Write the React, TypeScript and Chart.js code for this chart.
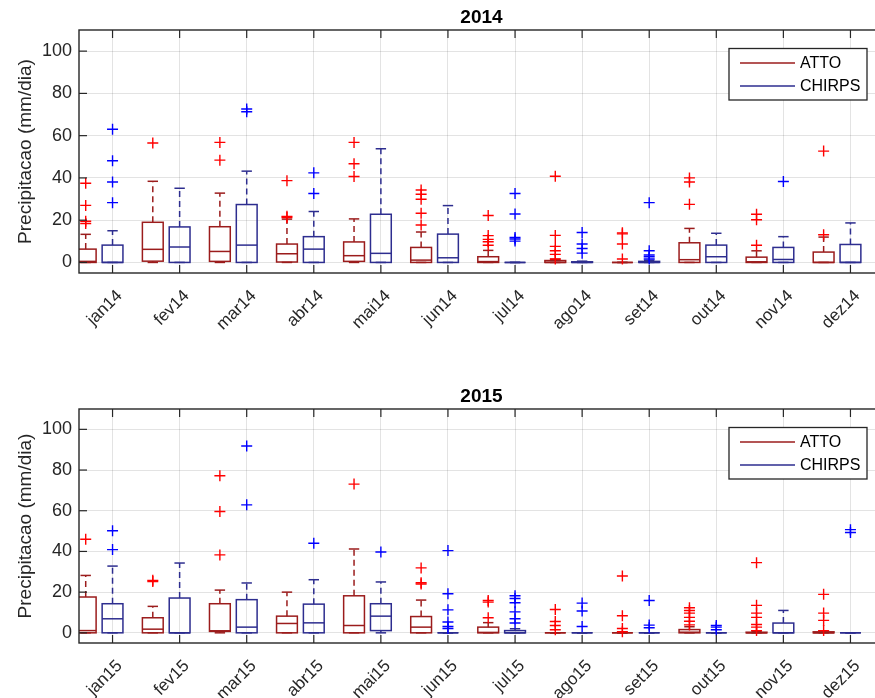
import React, { useEffect, useRef } from 'react';
import { Chart, registerables } from 'chart.js';
Chart.register(...registerables);

// ---------- data ----------
const MONTHS = ['jan', 'fev', 'mar', 'abr', 'mai', 'jun', 'jul', 'ago', 'set', 'out', 'nov', 'dez'];
const YEARS = ['2014', '2015'];
const SERIES = ['ATTO', 'CHIRPS'];
const Y_TICKS = [0, 20, 40, 60, 80, 100];
const Y_LABEL = 'Precipitacao (mm/dia)';

// 2014 ATTO
const ATTO_2014_Q1 = [0, 0.6, 0.5, 0.2, 0.5, 0, 0, 0, 0, 0, 0, 0];
const ATTO_2014_MED = [0.5, 6.2, 5.2, 4.1, 3.2, 1.1, 0.4, 0, 0, 1.3, 0.3, 0];
const ATTO_2014_Q3 = [6.3, 19, 16.9, 8.7, 9.7, 7.1, 2.7, 0.9, 0, 9.3, 2.5, 4.9];
const ATTO_2014_LO = [0, 0, 0, 0, 0, 0, 0, 0, 0, 0, 0, 0];
const ATTO_2014_HI = [13.3, 38.4, 32.8, 20.5, 20.6, 14.4, 5.7, 1.5, 0, 16.1, 5.5, 12];
const ATTO_2014_OUT = [
  [18.4, 19.5, 27, 37.5], [56.5], [48.4, 56.8], [21.3, 21.8, 38.7], [40.7, 46.7, 56.8],
  [17.7, 23.3, 29.9, 32.3, 34.3], [8.1, 9.8, 10.9, 12.7, 22.2], [1.6, 3.8, 5.5, 7.6, 12.8, 40.8],
  [1.6, 8.7, 13.5, 14], [27.5, 38.1, 40], [8.1, 20.2, 22.8], [13.1, 52.7],
];

// 2014 CHIRPS
const CHIRPS_2014_Q1 = [0, 0, 0, 0, 0, 0, 0, 0, 0, 0, 0, 0];
const CHIRPS_2014_MED = [0, 7.3, 8.2, 6.3, 4.3, 2.2, 0, 0, 0, 2.7, 1.4, 0];
const CHIRPS_2014_Q3 = [8.2, 16.8, 27.4, 12.2, 22.8, 13.4, 0, 0.3, 0.5, 8.2, 7.1, 8.5];
const CHIRPS_2014_LO = [0, 0, 0, 0, 0, 0, 0, 0, 0, 0, 0, 0];
const CHIRPS_2014_HI = [15, 35.1, 43.2, 24.1, 53.8, 26.9, 0, 0.6, 1, 13.8, 12.2, 18.7];
const CHIRPS_2014_OUT = [
  [28.3, 38.1, 48.1, 63], [], [71.3, 72.6], [32.6, 42.4], [], [],
  [10.1, 11.1, 11.8, 22.9, 32.6], [4.4, 6.6, 8.7, 14.2], [1.6, 2.7, 3.5, 5.5, 28.3], [], [38.3], [],
];

// 2015 ATTO
const ATTO_2015_Q1 = [0, 0, 0.7, 0, 0, 0, 0, 0, 0, 0, 0, 0];
const ATTO_2015_MED = [1.1, 1.8, 1.0, 4.6, 3.6, 2.8, 0.2, 0, 0, 0.3, 0, 0];
const ATTO_2015_Q3 = [17.6, 7.4, 14.3, 8.2, 18.2, 8.0, 2.8, 0, 0, 1.6, 0.3, 0.5];
const ATTO_2015_LO = [0, 0, 0, 0, 0, 0, 0, 0, 0, 0, 0, 0];
const ATTO_2015_HI = [28.2, 13, 21, 20, 41.2, 16.1, 5, 0, 0, 3, 0.6, 1];
const ATTO_2015_OUT = [
  [46], [25.2, 25.8], [38.3, 59.6, 77.2], [], [73.1], [24, 24.6, 31.9], [7.4, 15.1, 15.9],
  [1.5, 3.6, 5.6, 11.5], [0.5, 2.1, 8.4, 27.9], [3.9, 5.7, 7.6, 9.7, 11, 12.3],
  [1.1, 2.8, 4.1, 7.6, 9.7, 13.5, 34.5], [1.1, 6.1, 9.7, 18.9],
];

// 2015 CHIRPS
const CHIRPS_2015_Q1 = [0, 0, 0, 0, 1.1, 0, 0, 0, 0, 0, 0, 0];
const CHIRPS_2015_MED = [6.9, 0, 2.8, 4.9, 8.2, 0, 0, 0, 0, 0, 0, 0];
const CHIRPS_2015_Q3 = [14.3, 17.1, 16.3, 14.1, 14.3, 0, 1.1, 0, 0, 0, 4.8, 0];
const CHIRPS_2015_LO = [0, 0, 0, 0, 0, 0, 0, 0, 0, 0, 0, 0];
const CHIRPS_2015_HI = [32.8, 34.3, 24.5, 26.1, 25, 0, 2, 0, 0, 0, 11, 0];
const CHIRPS_2015_OUT = [
  [40.9, 50.2], [], [62.9, 91.8], [44], [39.7], [2.1, 3.1, 5.3, 11.3, 19.2, 40.4],
  [4.8, 6.9, 10.3, 14.8, 16.9, 18.2], [3.1, 10.7, 14.6], [2.5, 3.8, 15.9], [1.5, 2.8, 3.6], [], [49.3, 50.7],
];

// ---------- styles ----------
const FONT = '"Liberation Sans", Arial, Helvetica, sans-serif';
const TXT = '#262626';
const BOX_COLORS = ['#9b1c1c', '#2d2d8f'];
const OUT_COLORS = ['#ff0000', '#0000ff'];
const OFFSETS = [-0.4, 0];
const BOX_W = 0.31;

type S = { q1: number[]; med: number[]; q3: number[]; lo: number[]; hi: number[]; out: number[][] };

const STATS: S[][] = [
  [
    { q1: ATTO_2014_Q1, med: ATTO_2014_MED, q3: ATTO_2014_Q3, lo: ATTO_2014_LO, hi: ATTO_2014_HI, out: ATTO_2014_OUT },
    { q1: CHIRPS_2014_Q1, med: CHIRPS_2014_MED, q3: CHIRPS_2014_Q3, lo: CHIRPS_2014_LO, hi: CHIRPS_2014_HI, out: CHIRPS_2014_OUT },
  ],
  [
    { q1: ATTO_2015_Q1, med: ATTO_2015_MED, q3: ATTO_2015_Q3, lo: ATTO_2015_LO, hi: ATTO_2015_HI, out: ATTO_2015_OUT },
    { q1: CHIRPS_2015_Q1, med: CHIRPS_2015_MED, q3: CHIRPS_2015_Q3, lo: CHIRPS_2015_LO, hi: CHIRPS_2015_HI, out: CHIRPS_2015_OUT },
  ],
];

function line(ctx: CanvasRenderingContext2D, x1: number, y1: number, x2: number, y2: number) {
  ctx.beginPath();
  ctx.moveTo(x1, y1);
  ctx.lineTo(x2, y2);
  ctx.stroke();
}

function makePlugin(yi: number) {
  const stats = STATS[yi];
  return {
    id: 'boxes' + yi,
    beforeDatasetsDraw(chart: any) {
      const { ctx, chartArea: a, scales } = chart;
      const x = scales.x, y = scales.y;
      ctx.save();
      ctx.beginPath();
      ctx.rect(a.left, a.top, a.right - a.left, a.bottom - a.top);
      ctx.clip();
      stats.forEach((s, si) => {
        ctx.strokeStyle = BOX_COLORS[si];
        ctx.lineWidth = 1.5;
        for (let i = 0; i < MONTHS.length; i++) {
          const pos = i + 1 + OFFSETS[si];
          const cx = x.getPixelForValue(pos);
          const hw = x.getPixelForValue(pos + BOX_W / 2) - cx;
          const yq1 = y.getPixelForValue(s.q1[i]);
          const yq3 = y.getPixelForValue(s.q3[i]);
          const ymed = y.getPixelForValue(s.med[i]);
          const ylo = y.getPixelForValue(s.lo[i]);
          const yhi = y.getPixelForValue(s.hi[i]);
          ctx.setLineDash([6, 4]);
          if (yhi < yq3) line(ctx, cx, yq3, cx, yhi);
          if (ylo > yq1) line(ctx, cx, yq1, cx, ylo);
          ctx.setLineDash([]);
          line(ctx, cx - hw / 2, yhi, cx + hw / 2, yhi);
          line(ctx, cx - hw / 2, ylo, cx + hw / 2, ylo);
          ctx.strokeRect(cx - hw, yq3, 2 * hw, yq1 - yq3);
          line(ctx, cx - hw, ymed, cx + hw, ymed);
        }
      });
      ctx.restore();
    },
    afterDraw(chart: any) {
      const { ctx, chartArea: a, scales } = chart;
      const x = scales.x, y = scales.y;
      ctx.save();
      ctx.strokeStyle = TXT;
      ctx.lineWidth = 1.2;
      x.ticks.forEach((t: any) => {
        const px = x.getPixelForValue(t.value);
        line(ctx, px, a.bottom, px, a.bottom - 8);
        line(ctx, px, a.top, px, a.top + 8);
      });
      y.ticks.forEach((t: any) => {
        const py = y.getPixelForValue(t.value);
        line(ctx, a.left, py, a.left + 8, py);
        line(ctx, a.right, py, a.right - 8, py);
      });
      ctx.lineWidth = 1.4;
      ctx.strokeRect(a.left, a.top, a.right - a.left, a.bottom - a.top);
      // title
      ctx.fillStyle = '#000';
      ctx.font = 'bold 19px ' + FONT;
      ctx.textAlign = 'center';
      ctx.textBaseline = 'alphabetic';
      ctx.fillText(YEARS[yi], (a.left + a.right) / 2, a.top - 7);
      // legend
      const lx0 = a.right - 155, lx1 = a.right - 17;
      const ly0 = a.top + 18.5, ly1 = ly0 + 51.5;
      ctx.fillStyle = '#fff';
      ctx.fillRect(lx0, ly0, lx1 - lx0, ly1 - ly0);
      ctx.strokeStyle = TXT;
      ctx.lineWidth = 1.3;
      ctx.strokeRect(lx0, ly0, lx1 - lx0, ly1 - ly0);
      ctx.font = '16px ' + FONT;
      ctx.textAlign = 'left';
      ctx.textBaseline = 'middle';
      SERIES.forEach((name, si) => {
        const yy = a.top + 33 + si * 23;
        ctx.strokeStyle = BOX_COLORS[si];
        ctx.lineWidth = 1.5;
        line(ctx, lx0 + 11, yy, lx0 + 66, yy);
        ctx.fillStyle = '#000';
        ctx.fillText(name, lx0 + 71, yy + 1);
      });
      ctx.restore();
    },
  };
}

function buildChart(canvas: HTMLCanvasElement, yi: number, top: number, xH: number) {
  const stats = STATS[yi];
  const suffix = YEARS[yi].slice(2);
  const datasets = stats.map((s, si) => ({
    label: SERIES[si],
    data: s.out.flatMap((vals, i) => vals.map((v) => ({ x: i + 1 + OFFSETS[si], y: v }))),
    pointStyle: 'cross',
    pointRadius: 5.5,
    borderColor: OUT_COLORS[si],
    backgroundColor: OUT_COLORS[si],
    borderWidth: 1.4,
    showLine: false,
  }));
  return new Chart(canvas, {
    type: 'scatter',
    data: { datasets },
    plugins: [makePlugin(yi)],
    options: {
      responsive: false,
      animation: false,
      events: [],
      layout: { padding: { top, right: 16, left: 0, bottom: 0 } },
      plugins: { legend: { display: false }, title: { display: false }, tooltip: { enabled: false } },
      scales: {
        x: {
          type: 'linear',
          min: 0.5,
          max: 12.5,
          afterBuildTicks: (s: any) => { s.ticks = MONTHS.map((_, i) => ({ value: i + 1 })); },
          afterFit: (s: any) => { s.height = xH; },
          grid: { color: 'rgba(0,0,0,0.11)', lineWidth: 1, drawTicks: false },
          border: { display: false },
          ticks: {
            autoSkip: false,
            minRotation: 45,
            maxRotation: 45,
            padding: 13,
            labelOffset: 7,
            color: TXT,
            font: { family: FONT, size: 17 },
            callback: (v: any) => MONTHS[Math.round(v) - 1] + suffix,
          },
        },
        y: {
          type: 'linear',
          min: -5,
          max: 110,
          afterBuildTicks: (s: any) => { s.ticks = Y_TICKS.map((v) => ({ value: v })); },
          afterFit: (s: any) => { s.width = 79; },
          grid: { color: 'rgba(0,0,0,0.11)', lineWidth: 1, drawTicks: false },
          border: { display: false },
          ticks: { padding: 7, color: TXT, font: { family: FONT, size: 18 }, callback: (v: any) => String(v) },
          title: { display: true, text: Y_LABEL, color: TXT, font: { family: FONT, size: 19 }, padding: { top: 14, bottom: 0 } },
        },
      },
    } as any,
  });
}

export default function App() {
  const ref1 = useRef<HTMLCanvasElement>(null);
  const ref2 = useRef<HTMLCanvasElement>(null);
  useEffect(() => {
    const c1 = buildChart(ref1.current!, 0, 30, 67);
    const c2 = buildChart(ref2.current!, 1, 39, 55);
    return () => { c1.destroy(); c2.destroy(); };
  }, []);
  return (
    <div style={{ position: 'absolute', left: 0, top: 0, width: 875, height: 698, overflow: 'hidden', background: '#fff' }}>
      <canvas ref={ref1} width={900} height={340} style={{ position: 'absolute', left: 0, top: 0, width: 900, height: 340 }} />
      <canvas ref={ref2} width={900} height={328} style={{ position: 'absolute', left: 0, top: 370, width: 900, height: 328 }} />
    </div>
  );
}
